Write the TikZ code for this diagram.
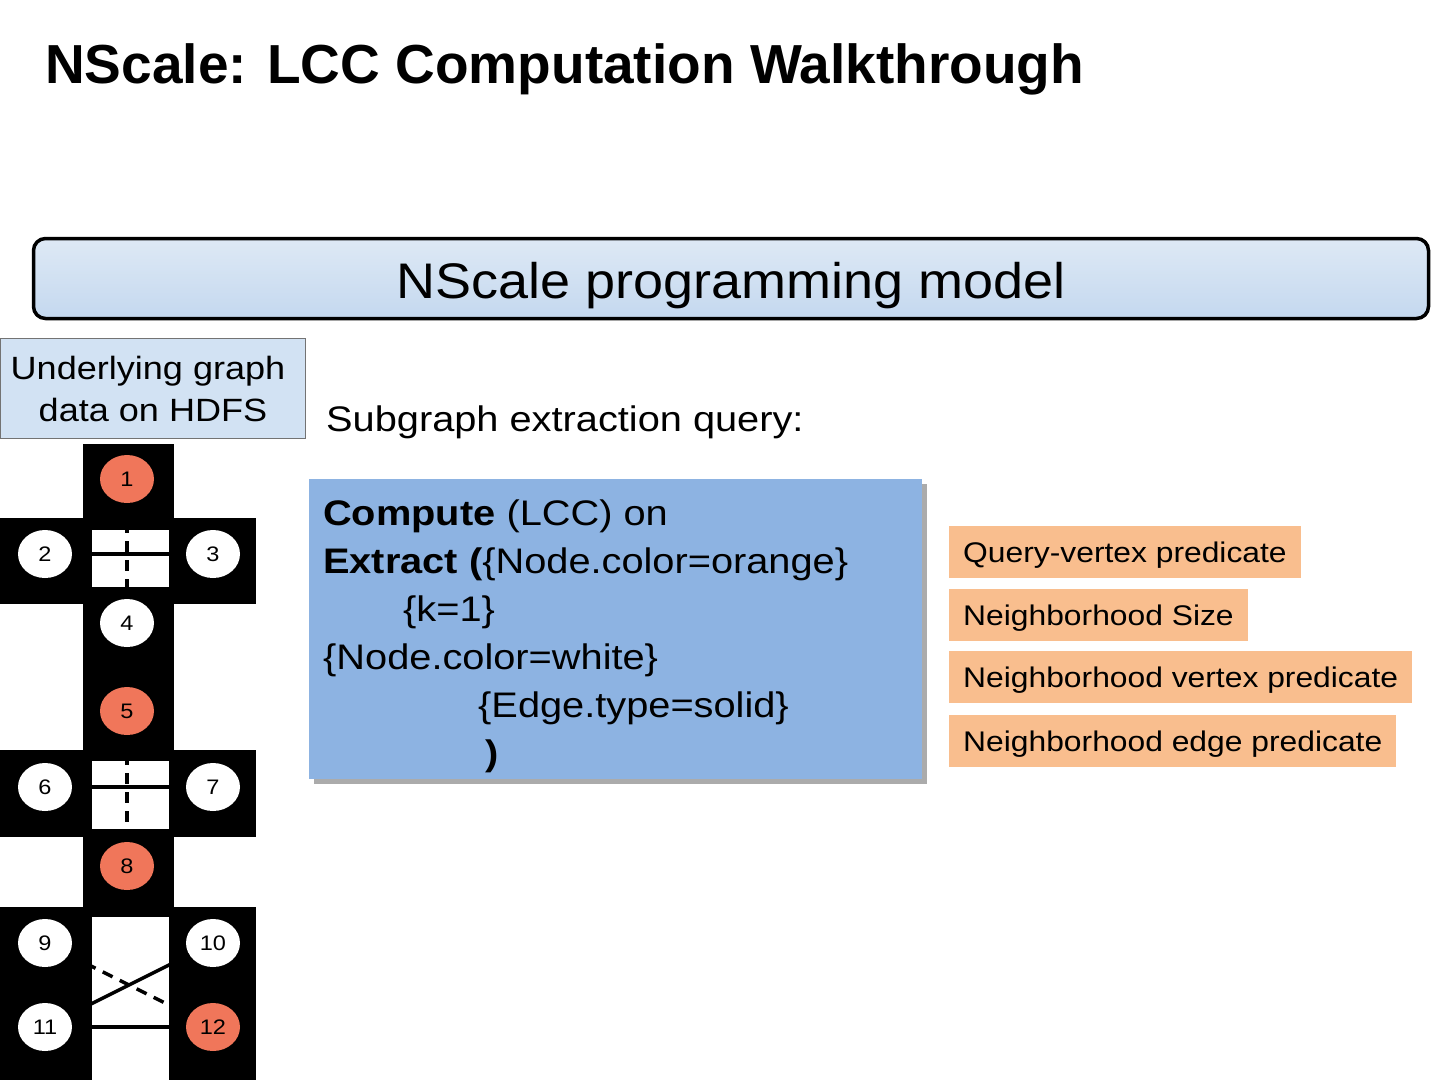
\documentclass[tikz,border=0pt]{standalone}
\usepackage{fontspec}
\setmainfont{Liberation Sans}[FakeStretch=1.12]
\newfontfamily\barfont{Liberation Sans}[FakeStretch=1.08]
\newfontfamily\headfont{Liberation Sans}
\usetikzlibrary{positioning,shapes.geometric,shadows}
\definecolor{nsorange}{HTML}{F0765A}
\definecolor{nspeach}{HTML}{F9BE8E}
\definecolor{nsquery}{HTML}{8DB3E2}
\definecolor{nspale}{HTML}{D2E2F3}
\definecolor{nsbartop}{HTML}{DEE9F5}
\definecolor{nsbarbot}{HTML}{C4D8EF}
\tikzset{
    vtx/.style={ellipse,fill=white,minimum width=54pt,minimum height=48pt,inner sep=0pt,font=\fontsize{21}{24}\selectfont},
    qvtx/.style={vtx,fill=nsorange},
    blk/.style={fill=black},
    gap/.style={fill=white},
    solidedge/.style={line width=3.5pt},
    dashedge/.style={line width=3.5pt,dash pattern=on 11pt off 8pt},
    pred/.style={fill=nspeach,minimum height=52pt,inner xsep=14pt,text height=27pt,text depth=6pt,font=\fontsize{28.4}{32}\selectfont},
    modelbar/.style={draw,line width=3.5pt,rounded corners=12pt,top color=nsbartop,bottom color=nsbarbot,minimum width=1395pt,minimum height=80pt,text height=49pt,text depth=10pt,font=\barfont\fontsize{50}{56}\selectfont},
    hdfs/.style={draw=black!55,line width=1pt,fill=nspale,align=center,minimum width=305pt,minimum height=100pt,inner sep=0pt,font=\fontsize{32.2}{42}\selectfont},
    querybox/.style={fill=nsquery,minimum width=613pt,minimum height=300pt,drop shadow={shadow xshift=5pt,shadow yshift=-5pt,fill=black!55,opacity=.6}},
}

\begin{document}
\begin{tikzpicture}[x=1pt,y=-1pt]
    \useasboundingbox (0,0) rectangle (1440,1080);

    \node[anchor=base west,inner sep=0pt,font=\headfont\bfseries\fontsize{55}{60}\selectfont] (title) at (45,83) {NScale: LCC Computation Walkthrough};
    \node[modelbar] (model) at (731,278.5) {NScale programming model};
    \node[hdfs,anchor=north west] (hdfs) at (0,338) {Underlying graph\hspace*{10pt}\\data on HDFS};
    \node[anchor=base west,inner sep=0pt,font=\fontsize{35.5}{40}\selectfont] (sgq) at (326,431) {Subgraph extraction query:};

    \node[querybox,anchor=north west] (qbox) at (309,479) {};
    \node[anchor=north west,inner sep=0pt,align=left,font=\fontsize{35.5}{48}\selectfont] (qtext) at (323,500)
        {\textbf{Compute} (LCC) on\\
         \textbf{Extract (}\{Node.color=orange\}\\
         \hspace*{80pt}\{k=1\}\\
         \{Node.color=white\}\\
         \hspace*{155pt}\{Edge.type=solid\}\\
         \hspace*{162pt}\textbf{)}};

    % predicate labels
    \node[pred,anchor=north west] (qv) at (949,526) {Query-vertex predicate};
    \node[pred,below right=10pt and 0pt of qv.south west] (nsize) {Neighborhood Size};
    \node[pred,below right=10pt and 0pt of nsize.south west] (nvert) {Neighborhood vertex predicate};
    \node[pred,below right=12pt and 0pt of nvert.south west] (nedge) {Neighborhood edge predicate};

    % graph partitions
    \fill[blk] (83,444) rectangle (174,917);
    \fill[blk] (0,518) rectangle (256,604);
    \fill[blk] (0,750) rectangle (256,837);
    \fill[blk] (0,907) rectangle (256,1080);
    \fill[gap] (92,530) rectangle (169,587);
    \fill[gap] (92,761) rectangle (169,829);
    \fill[gap] (92,917) rectangle (169,1080);

    \node[qvtx] (v1) at (127,479) {1};
    \node[vtx] (v2) at (45,554) {2};
    \node[vtx] (v3) at (213,554) {3};
    \node[vtx] (v4) at (127,623) {4};
    \node[qvtx] (v5) at (127,711) {5};
    \node[vtx] (v6) at (45,787) {6};
    \node[vtx] (v7) at (213,787) {7};
    \node[qvtx] (v8) at (127,866) {8};
    \node[vtx] (v9) at (45,943) {9};
    \node[vtx] (v10) at (213,943) {10};
    \node[vtx] (v11) at (45,1027) {11};
    \node[qvtx] (v12) at (213,1027) {12};

    \draw[dashedge] (v1) -- (v4);
    \draw[solidedge] (v2) -- (v3);
    \draw[dashedge] (v5) -- (v8);
    \draw[solidedge] (v6) -- (v7);
    \draw[dashedge] (v9) -- (v12);
    \draw[solidedge] (v11) -- (v10);
    \draw[solidedge] (v11) -- (v12);
\end{tikzpicture}
\end{document}
